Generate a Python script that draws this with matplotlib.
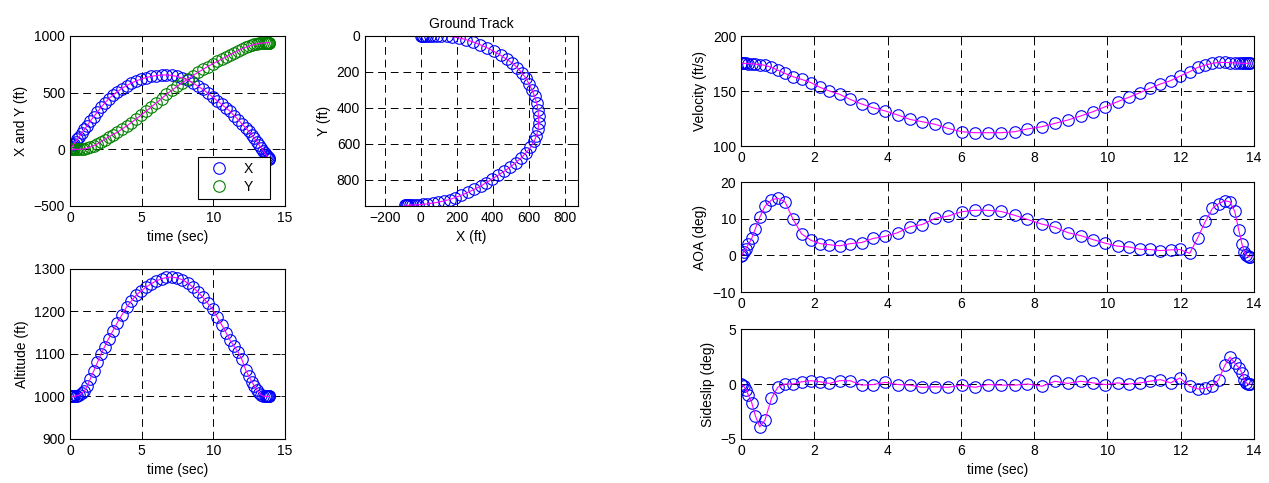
import matplotlib
matplotlib.use("Agg")
import matplotlib.pyplot as plt

plt.rcParams["font.family"] = ["Liberation Sans", "DejaVu Sans"]
plt.rcParams["font.size"] = 10

# sample times (s), shared by every panel
t = [0.00, 0.03, 0.07, 0.13, 0.20, 0.29, 0.39, 0.51, 0.65, 0.83,
     1.00, 1.20, 1.42, 1.65, 1.91, 2.16, 2.41, 2.69, 2.98, 3.29,
     3.60, 3.94, 4.28, 4.61, 4.94, 5.30, 5.65, 6.02, 6.39, 6.73,
     7.09, 7.48, 7.82, 8.22, 8.57, 8.92, 9.27, 9.61, 9.95, 10.28,
     10.59, 10.89, 11.16, 11.45, 11.73, 11.98, 12.25, 12.47, 12.68, 12.87,
     13.04, 13.21, 13.35, 13.48, 13.59, 13.68, 13.74, 13.80, 13.85, 13.88, 13.90]

xpos = [0, 5, 12, 23, 35, 51, 68, 89, 113, 145,
        175, 210, 250, 288, 330, 370, 407, 445, 478, 508,
        536, 562, 585, 603, 619, 633, 644, 651, 655, 656,
        652, 643, 630, 610, 585, 558, 528, 497, 462, 428,
        396, 364, 336, 298, 262, 226, 190, 160, 128, 96,
        66, 35, 10, -13, -32, -48, -59, -70, -79, -84, -88]

ypos = [0, 0, 0, 0, 0, 0, 0, 0, 1, 2,
        4, 10, 20, 32, 48, 66, 86, 108, 130, 150,
        176, 205, 236, 268, 300, 336, 372, 410, 448, 485,
        520, 556, 586, 620, 650, 678, 705, 730, 754, 776,
        796, 816, 834, 853, 870, 886, 900, 910, 918, 925,
        930, 934, 937, 939, 940, 941, 942, 942, 942, 942, 942]

alt = [1000, 1000, 1000, 1000, 1000, 1000, 1001, 1002, 1004, 1008,
       1013, 1025, 1042, 1060, 1080, 1100, 1117, 1136, 1154, 1173,
       1191, 1210, 1225, 1238, 1248, 1257, 1265, 1272, 1277, 1280,
       1281, 1279, 1275, 1267, 1257, 1246, 1233, 1219, 1205, 1186,
       1168, 1150, 1133, 1118, 1104, 1088, 1063, 1048, 1035, 1024,
       1015, 1008, 1003, 1001, 1000, 1000, 1000, 1000, 1000, 1000, 1000]

vel = [175.2, 175.2, 175.2, 175.1, 175.0, 174.8, 174.4, 174.0, 173.4, 171.5,
       169.0, 166.0, 163.0, 160.6, 157.6, 153.3, 150.0, 147.0, 142.4, 138.2,
       134.8, 131.8, 128.2, 124.2, 122.1, 119.7, 116.0, 113.0, 112.1, 112.1,
       112.1, 113.0, 115.5, 117.6, 120.6, 123.6, 127.3, 131.2, 135.8, 140.3,
       144.3, 148.5, 152.4, 156.4, 159.4, 163.6, 167.6, 171.5, 173.6, 175.2,
       176.0, 176.0, 175.8, 175.5, 175.3, 175.2, 175.2, 175.2, 175.2, 175.2, 175.2]

aoa = [-0.3, 0.2, 0.9, 1.8, 3.0, 4.6, 7.3, 10.4, 13.4, 15.1,
       15.6, 14.6, 9.8, 5.9, 4.1, 3.2, 2.9, 2.6, 3.2, 3.5,
       4.6, 5.2, 6.2, 7.8, 8.4, 10.1, 10.7, 11.9, 12.3, 12.3,
       12.0, 10.9, 9.8, 8.5, 7.7, 6.2, 5.4, 4.3, 3.3, 2.5,
       2.3, 1.65, 1.6, 1.3, 1.5, 1.6, 0.55, 4.8, 9.3, 12.8,
       14.1, 14.9, 14.6, 12.0, 6.9, 3.0, 1.0, 0.1, -0.3, -0.4, -0.4]

beta = [0.0, -0.1, -0.2, -0.5, -1.0, -1.7, -2.9, -3.9, -3.3, -1.3,
        -0.3, 0.0, 0.0, 0.2, 0.3, 0.2, 0.05, 0.3, 0.3, -0.1,
        -0.05, 0.15, -0.05, -0.1, -0.3, -0.25, -0.3, -0.1, -0.3, -0.05,
        -0.1, -0.1, 0.0, -0.2, 0.25, 0.05, 0.25, 0.1, -0.05, 0.1,
        0.0, 0.1, 0.25, 0.4, 0.1, 0.55, -0.2, -0.45, -0.4, -0.2,
        0.4, 1.7, 2.45, 1.9, 1.5, 1.0, 0.4, 0.1, 0.0, 0.0, 0.0]

BLUE, GREEN, MAG = (0, 0, 1), (0, 0.5, 0), (1, 0, 1)
mk = dict(ls="none", marker="o", ms=8.3, mfc="none", mew=0.8)
ln = dict(color=MAG, lw=0.8)


def style(ax):
    ax.grid(True, color="k", ls=(0, (8, 5)), lw=0.7)
    ax.tick_params(direction="in", length=3, top=True, right=True, width=0.6)
    for s in ax.spines.values():
        s.set_linewidth(0.8)


fig = plt.figure(figsize=(12.69, 4.83), dpi=100)

# X and Y vs time
ax = fig.add_axes([0.0552, 0.5735, 0.1694, 0.352])
ax.plot(t, xpos, color=BLUE, label="X   ", **mk)
ax.plot(t, ypos, color=GREEN, label="Y   ", **mk)
ax.plot(t, xpos, **ln)
ax.plot(t, ypos, **ln)
ax.set_xlim(0, 15); ax.set_ylim(-500, 1000)
ax.set_xticks([0, 5, 10, 15]); ax.set_yticks([-500, 0, 500, 1000])
ax.set_xlabel("time (sec)"); ax.set_ylabel("X and Y (ft)")
style(ax)
leg = ax.legend(loc="lower left", bbox_to_anchor=(0.595, 0.04), borderaxespad=0,
                fancybox=False, edgecolor="k", framealpha=1, handletextpad=0.6,
                borderpad=0.35, labelspacing=0.3, handlelength=2.4)
leg.get_frame().set_linewidth(0.8)

# ground track
ax = fig.add_axes([0.2876, 0.5735, 0.168, 0.352])
ax.plot(xpos, ypos, color=BLUE, **mk)
ax.plot(xpos, ypos, **ln)
ax.set_xlim(-310, 875); ax.set_ylim(946, 0)
ax.set_xticks(range(-200, 801, 200)); ax.set_yticks(range(0, 801, 200))
ax.set_xlabel("X (ft)"); ax.set_ylabel("Y (ft)")
ax.set_title("Ground Track", fontsize=10)
style(ax)

# altitude
ax = fig.add_axes([0.0552, 0.0911, 0.1694, 0.352])
ax.plot(t, alt, color=BLUE, **mk)
ax.plot(t, alt, **ln)
ax.set_xlim(0, 15); ax.set_ylim(900, 1300)
ax.set_xticks([0, 5, 10, 15]); ax.set_yticks(range(900, 1301, 100))
ax.set_xlabel("time (sec)"); ax.set_ylabel("Altitude (ft)")
style(ax)

# right column
right = [(vel, (100, 200), [100, 150, 200], "Velocity (ft/s)", 0.6977),
         (aoa, (-10, 20), [-10, 0, 10, 20], "AOA (deg)", 0.3954),
         (beta, (-5, 5), [-5, 0, 5], "Sideslip (deg)", 0.0911)]
for vals, lim, ticks, lab, bot in right:
    ax = fig.add_axes([0.584, bot, 0.404, 0.2277])
    ax.plot(t, vals, color=BLUE, **mk)
    ax.plot(t, vals, **ln)
    ax.set_xlim(0, 14); ax.set_ylim(*lim)
    ax.set_xticks(range(0, 15, 2)); ax.set_yticks(ticks)
    ax.set_ylabel(lab)
    style(ax)
ax.set_xlabel("time (sec)")

fig.savefig("out.png", dpi=100)
